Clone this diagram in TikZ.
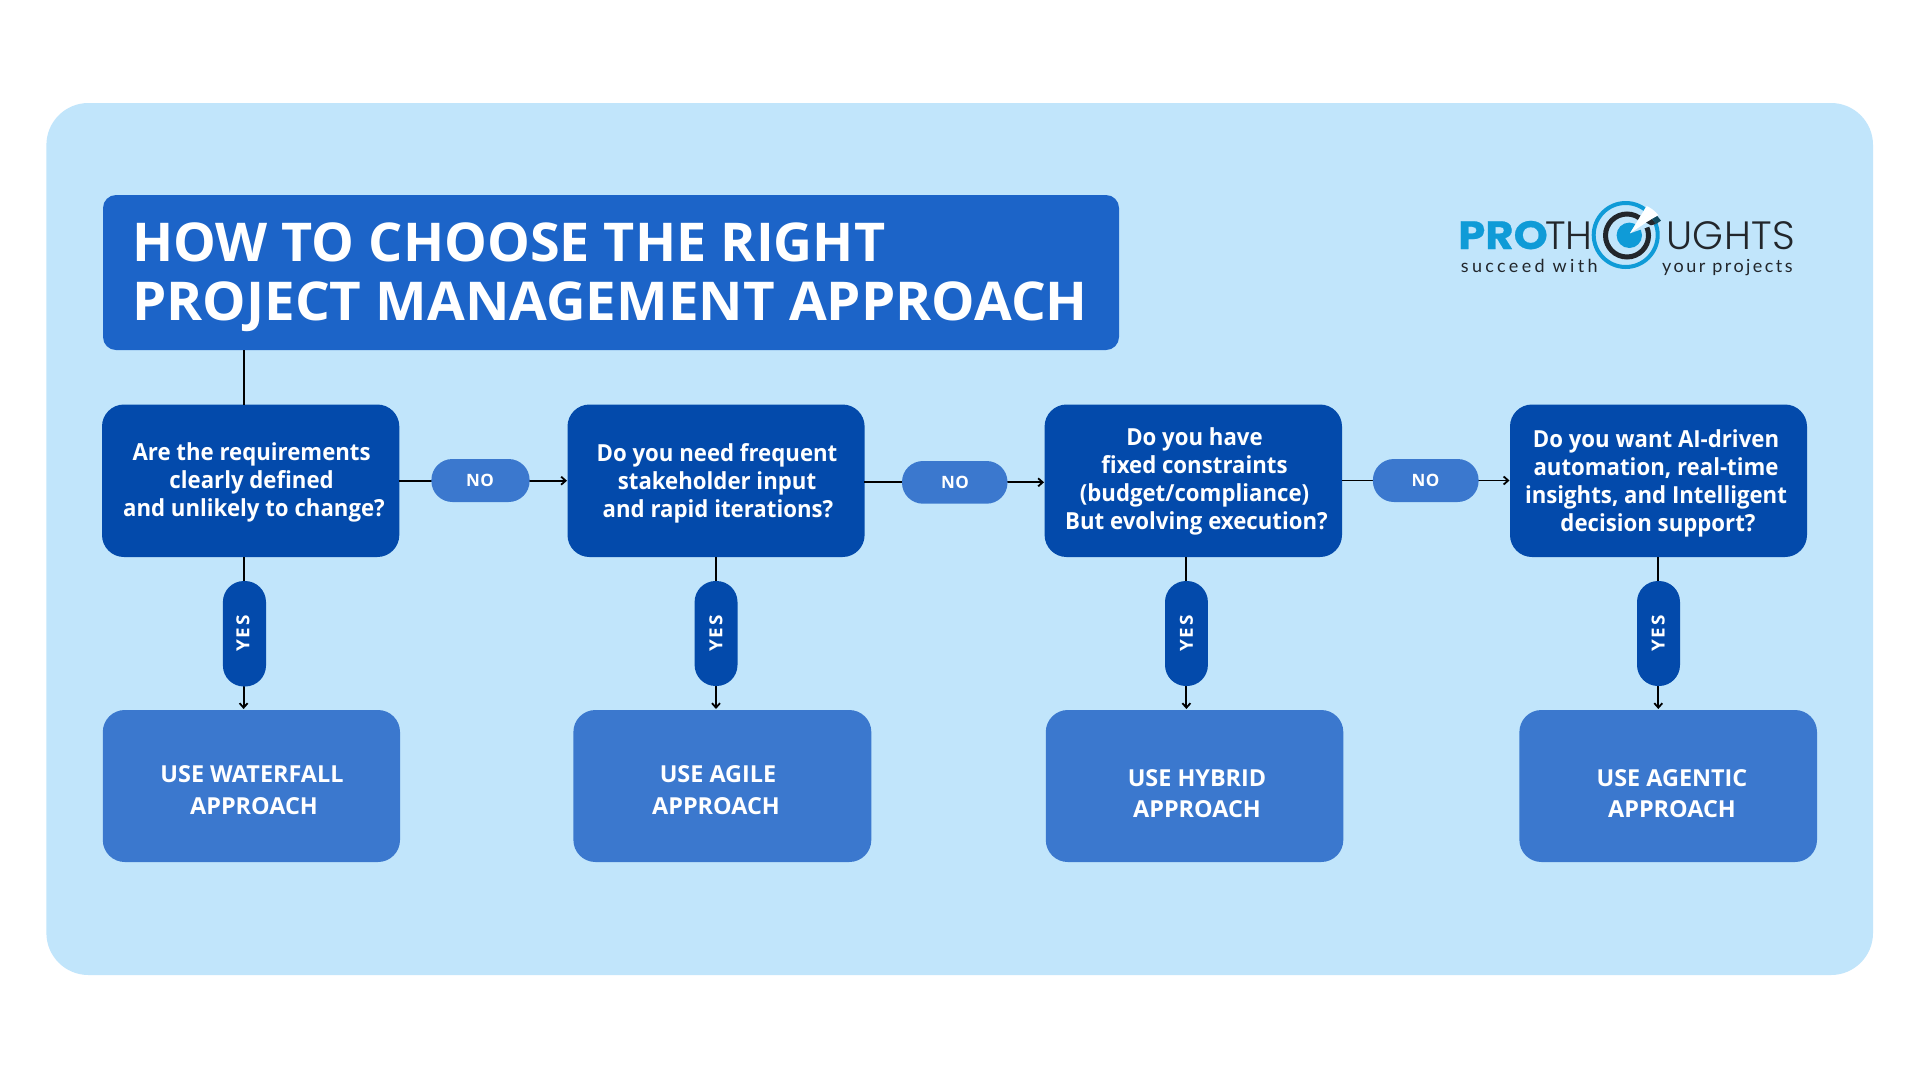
\documentclass[tikz,border=0pt]{standalone}
\usepackage{fontspec}
\setmainfont{Open Sans}
\newfontfamily\qfont[FakeStretch=0.945]{Open Sans}
\newfontfamily\titlefonta[FakeStretch=1.007]{Open Sans}
\newfontfamily\titlefontb[FakeStretch=1.023]{Open Sans}
\newfontfamily\yesfont[LetterSpace=9,FakeStretch=1.05]{Open Sans}
\newfontfamily\nofont[LetterSpace=3]{Open Sans}
\newfontfamily\logofont[UprightFont=* Light]{Poppins}
\newfontfamily\logofontb[UprightFont=* Light,LetterSpace=1.2]{Poppins}
\newfontfamily\profont[FakeStretch=1.1,FakeBold=0.6]{Poppins}
\newfontfamily\tagfonta[LetterSpace=18.5]{Lato}
\newfontfamily\tagfontb[LetterSpace=13.5]{Lato}
\usetikzlibrary{arrows.meta}
\definecolor{panel}{HTML}{C1E5FB}
\definecolor{titleblue}{HTML}{1C64C8}
\definecolor{qblue}{HTML}{034AAB}
\definecolor{ablue}{HTML}{3B78CE}
\definecolor{logocyan}{HTML}{0F9BD7}
\definecolor{logoink}{HTML}{22262B}
\definecolor{logoteal}{HTML}{124A5E}
\tikzset{
 x=1pt,y=-1pt,
 qtext/.style={text=white,font=\fontsize{23.5}{28}\qfont\bfseries,align=center,anchor=base},
 atext/.style={text=white,font=\fontsize{23.4}{31}\selectfont\bfseries,align=center,anchor=base},
 titletext/.style={text=white,anchor=base west,inner sep=0pt},
 nopill/.style={fill=ablue,draw=none,rounded corners=21pt},
 yespill/.style={fill=qblue,draw=none,rounded corners=21pt},
 notext/.style={text=white,font=\fontsize{17}{17}\nofont\bfseries,inner sep=0pt},
 yestext/.style={text=white,font=\fontsize{18}{18}\yesfont\bfseries,inner sep=0pt,rotate=90},
 link/.style={draw=black,line width=1.9pt},
 arrowlink/.style={link,-{Straight Barb[length=4.5pt,width=8pt,line width=1.8pt]}},
 logotxt/.style={inner sep=0pt,anchor=base west},
}
\begin{document}
\begin{tikzpicture}
\useasboundingbox (0,0) rectangle (1920,1080);
\fill[white] (0,0) rectangle (1920,1080);
\fill[panel,rounded corners=42pt] (46.4,103) rectangle (1873,975);
% title
\fill[titleblue,rounded corners=13pt] (103,195) rectangle (1119,350);
\node[titletext,font=\fontsize{53.5}{59}\titlefonta\bfseries] (t1) at (132,261) {HOW TO CHOOSE THE RIGHT};
\node[titletext,font=\fontsize{53.5}{59}\titlefontb\bfseries] (t2) at (132,320) {PROJECT MANAGEMENT APPROACH};
% questions
\fill[qblue,rounded corners=22pt] (102,404.5) rectangle (399.3,557);
\fill[qblue,rounded corners=22pt] (567.5,404.5) rectangle (864.6,557);
\fill[qblue,rounded corners=22pt] (1044.6,404.5) rectangle (1342,557);
\fill[qblue,rounded corners=22pt] (1510,404.5) rectangle (1807,557);
\node[qtext] at (251.6,460) {Are the requirements};
\node[qtext] at (251.6,488) {clearly defined};
\node[qtext] at (254,516) {and unlikely to change?};
\node[qtext] at (717,461) {Do you need frequent};
\node[qtext] at (717,489) {stakeholder input};
\node[qtext] at (718,517) {and rapid iterations?};
\node[qtext] at (1194.5,445) {Do you have};
\node[qtext] at (1194.5,473) {fixed constraints};
\node[qtext] at (1194.5,501) {(budget/compliance)};
\node[qtext] at (1196.5,529) {But evolving execution?};
\node[qtext] at (1656,447) {Do you want AI-driven};
\node[qtext] at (1656,475) {automation, real-time};
\node[qtext] at (1656,503) {insights, and Intelligent};
\node[qtext] at (1658,531) {decision support?};
% answers
\fill[ablue,rounded corners=22pt] (102.8,710) rectangle (400,862);
\fill[ablue,rounded corners=22pt] (573.4,710) rectangle (871.3,862);
\fill[ablue,rounded corners=22pt] (1045.8,710) rectangle (1343.3,862);
\fill[ablue,rounded corners=22pt] (1519.4,710) rectangle (1817,862);
\node[atext] at (252,782) {USE WATERFALL};
\node[atext] at (254,814) {APPROACH};
\node[atext] at (718,782) {USE AGILE};
\node[atext] at (716,814) {APPROACH};
\node[atext] at (1197,786) {USE HYBRID};
\node[atext] at (1197,817) {APPROACH};
\node[atext] at (1672,786) {USE AGENTIC};
\node[atext] at (1672,817) {APPROACH};
% connectors
\draw[link] (243.6,350) -- (243.6,405);
\draw[link] (243.6,557) -- (243.6,582);
\draw[arrowlink] (243.6,686) -- (243.6,709);
\draw[link] (716,557) -- (716,582);
\draw[arrowlink] (716,686) -- (716,709);
\draw[link] (1186.4,557) -- (1186.4,582);
\draw[arrowlink] (1186.4,686) -- (1186.4,709);
\draw[link] (1658.3,557) -- (1658.3,582);
\draw[arrowlink] (1658.3,686) -- (1658.3,709);
\draw[link] (399,480.7) -- (432,480.7);
\draw[arrowlink] (529,480.7) -- (567,480.7);
\draw[link] (864,482.3) -- (903,482.3);
\draw[arrowlink] (1007,482.3) -- (1044,482.3);
\draw[link] (1342,480.5) -- (1374,480.5);
\draw[arrowlink] (1478,480.5) -- (1509.5,480.5);
% pills
\fill[nopill] (431.4,459) rectangle (529.6,502);
\fill[nopill] (902,461) rectangle (1007.5,503.7);
\fill[nopill] (1372.9,459) rectangle (1478.6,502);
\node[notext] at (480,480.5) {NO};
\node[notext] at (955,482.3) {NO};
\node[notext] at (1425.5,480.5) {NO};
\fill[yespill] (222.9,581) rectangle (266,686.5);
\fill[yespill] (694.6,581) rectangle (737.5,686);
\fill[yespill] (1165,581) rectangle (1207.9,686);
\fill[yespill] (1637,581) rectangle (1680,686);
\node[yestext] at (243,633.5) {YES};
\node[yestext] at (716,633.5) {YES};
\node[yestext] at (1186.4,633.5) {YES};
\node[yestext] at (1658.3,633.5) {YES};
% logo
\node[logotxt,text=logocyan,font=\fontsize{39.5}{39.5}\profont\bfseries] at (1458,249) {PRO};
\node[logotxt,text=logoink,font=\fontsize{39.5}{39.5}\logofont] at (1545,249) {TH};
\node[logotxt,text=logoink,font=\fontsize{39.5}{39.5}\logofontb] at (1666,249) {UGHTS};
\node[logotxt,text=logoink,font=\fontsize{18}{18}\tagfonta] at (1460.7,272.7) {succeed with};
\node[logotxt,text=logoink,font=\fontsize{18}{18}\tagfontb] at (1662,272.7) {your projects};
\draw[logocyan,line width=4pt] (1625.7,235) circle (32);
\draw[logoink,line width=5pt] (1627,235.5) circle (21.5);
\fill[logocyan] (1629.3,235.3) circle (12.7);
\fill[panel] (1646,207) -- (1662,221) -- (1648,227) -- (1630,233.3) -- cycle;
\fill[white] (1630,233.3) -- (1646.7,206) .. controls (1651,208) and (1655,211) .. (1658.3,215) -- (1645,223.3) -- cycle;
\fill[logoink] (1646,222.7) -- (1652,219) -- (1656,224) -- (1651,225.3) -- cycle;
\fill[logoteal] (1652,219) -- (1657.3,216) -- (1661,220.7) -- (1656,224) -- cycle;
\end{tikzpicture}
\end{document}
